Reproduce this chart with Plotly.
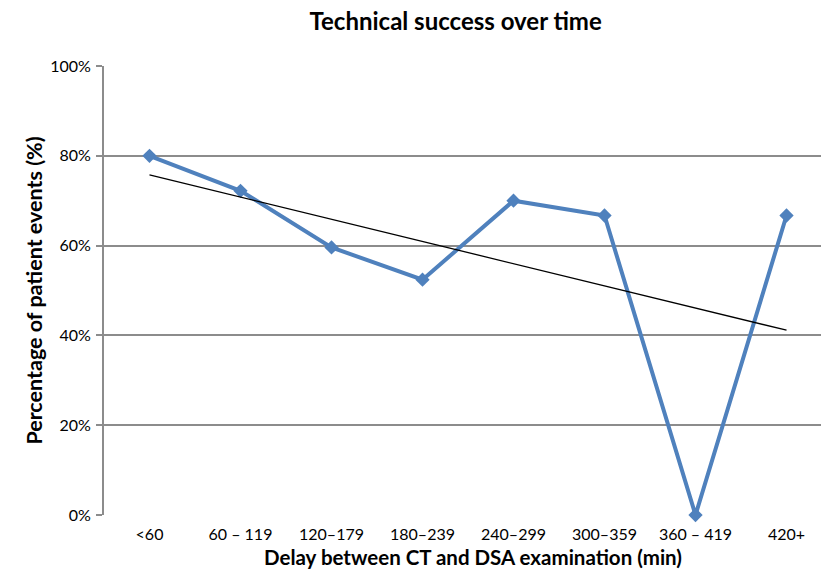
import numpy as np
import plotly.graph_objects as go

categories = ["<60", "60 – 119", "120–179", "180–239", "240–299", "300–359", "360 – 419", "420+"]
success_pct = [80.0, 72.2, 59.6, 52.4, 70.0, 66.7, 0.0, 66.7]
y_ticks = [0, 20, 40, 60, 80, 100]
y_tick_labels = ["0%", "20%", "40%", "60%", "80%", "100%"]

xs = np.arange(len(categories))
slope, intercept = np.polyfit(xs, success_pct, 1)
trend = slope * xs + intercept

fig = go.Figure()
fig.add_trace(go.Scatter(
    x=xs, y=success_pct, mode="lines+markers",
    line=dict(color="#4F81BD", width=4),
    marker=dict(symbol="diamond", size=11, color="#4F81BD"),
    showlegend=False, cliponaxis=False,
))
fig.add_trace(go.Scatter(
    x=[xs[0], xs[-1]], y=[trend[0], trend[-1]], mode="lines",
    line=dict(color="black", width=1.3),
    showlegend=False,
))

fig.update_layout(
    width=821, height=572,
    margin=dict(l=104, r=0, t=66, b=57),
    paper_bgcolor="white", plot_bgcolor="white",
    font=dict(family="Lato, 'Open Sans', sans-serif", color="black"),
    title=dict(text="<b>Technical success over time</b>", x=0.555, xanchor="center",
               y=0.962, yanchor="middle", font=dict(size=24)),
    xaxis=dict(
        range=[-0.5, 7.379], tickmode="array", tickvals=xs, ticktext=categories,
        showgrid=False, zeroline=False, showline=False, ticks="",
        tickfont=dict(size=16), ticklabelstandoff=8,
    ),
    yaxis=dict(
        range=[0, 100], tickmode="array", tickvals=y_ticks, ticktext=y_tick_labels,
        showgrid=True, gridcolor="#8c8c8c", gridwidth=2,
        zeroline=False, showline=True, linecolor="#8c8c8c", linewidth=2,
        ticks="outside", ticklen=6, tickcolor="#8c8c8c", tickwidth=2,
        tickfont=dict(size=16), ticklabelstandoff=2,
        title=dict(text="<b>Percentage of patient events (%)</b>",
                   font=dict(size=21.5), standoff=2),
    ),
    annotations=[dict(
        text="<b>Delay between CT and DSA examination (min)</b>",
        xref="paper", yref="paper", x=0.5153, y=-0.094,
        xanchor="center", yanchor="middle", showarrow=False,
        font=dict(size=20.5),
    )],
)

fig.write_html("out.html", config={"displayModeBar": False})
with open("out.html", "r", encoding="utf-8") as f:
    html = f.read()
html = html.replace("<body>", "<body style=\"margin:0;padding:0;\">", 1)
with open("out.html", "w", encoding="utf-8") as f:
    f.write(html)
